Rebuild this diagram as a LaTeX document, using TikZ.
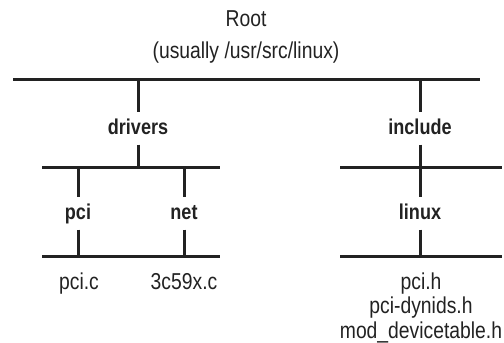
\documentclass[tikz,border=0pt]{standalone}
\usepackage{fontspec}
\setmainfont{Liberation Sans}[FakeStretch=0.84]
\usetikzlibrary{positioning,calc}
\definecolor{inkgray}{HTML}{222222}
\tikzset{bar/.style={draw=inkgray, line width=3pt}}
\tikzset{stem/.style={draw=inkgray, line width=3pt}}
\tikzset{dirlbl/.style={anchor=base, inner sep=0pt, outer sep=6.5pt, text height=16pt, text depth=4pt, text=inkgray, font=\fontsize{21.5}{26}\selectfont\bfseries}}
\tikzset{filelbl/.style={anchor=base, inner sep=0pt, text=inkgray, font=\fontsize{23}{26}\selectfont}}

\begin{document}
\begin{tikzpicture}[x=1pt, y=-1pt]
    \useasboundingbox (0,0) rectangle (504,343);
    \node[filelbl] (root) at (246,26) {Root};
    \node[filelbl] (rootpath) at (246,58) {(usually /usr/src/linux)};
    % bars
    \coordinate (topw) at (13,79);   \coordinate (tope) at (480,79);
    \coordinate (drvw) at (42,167);  \coordinate (drve) at (220,167);
    \coordinate (incw) at (340,167); \coordinate (ince) at (502,167);
    \coordinate (subw) at (42,256);  \coordinate (sube) at (220,256);
    \coordinate (linw) at (340,256); \coordinate (line) at (502,256);
    \draw[bar] (topw) -- (tope);
    \draw[bar] (drvw) -- (drve);
    \draw[bar] (incw) -- (ince);
    \draw[bar] (subw) -- (sube);
    \draw[bar] (linw) -- (line);
    % directories
    \node[dirlbl] (drivers) at (138,134) {drivers};
    \node[dirlbl] (include) at (420,134) {include};
    \node[dirlbl] (pci) at (78,219) {pci};
    \node[dirlbl] (net) at (184,219) {net};
    \node[dirlbl] (linux) at (420,219) {linux};
    \draw[stem] (drivers |- topw) -- (drivers);
    \draw[stem] (include |- topw) -- (include);
    \draw[stem] (drivers) -- (drivers |- drvw);
    \draw[stem] (pci |- drvw) -- (pci);
    \draw[stem] (net |- drvw) -- (net);
    \draw[stem] (include) -- (linux);
    \draw[stem] (pci) -- (pci |- subw);
    \draw[stem] (net) -- (net |- subw);
    \draw[stem] (linux) -- (linux |- linw);
    % files
    \node[filelbl] (pcic) at (79,289) {pci.c};
    \node[filelbl] (netc) at (184,289) {3c59x.c};
    \node[filelbl] (pcih) at (421,289) {pci.h};
    \node[filelbl] (dynids) at (421,313.5) {pci-dynids.h};
    \node[filelbl] (devtable) at (421,338) {mod\_devicetable.h};
\end{tikzpicture}
\end{document}
